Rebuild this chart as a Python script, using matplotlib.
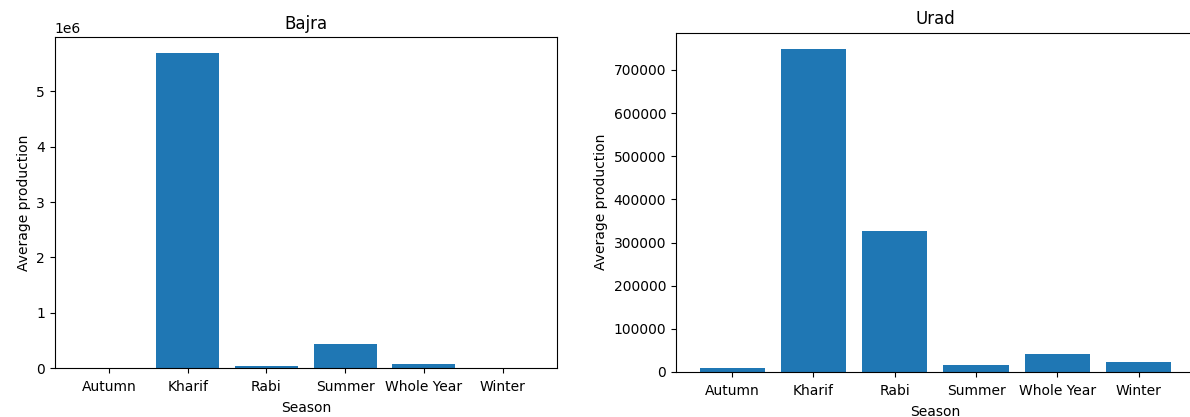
import matplotlib.pyplot as plt

seasons = ["Autumn", "Kharif", "Rabi", "Summer", "Whole Year", "Winter"]
bajra_production = [2000, 5700000, 43000, 430000, 67000, 1500]
urad_production = [8600, 749000, 326000, 16400, 41400, 22700]

fig = plt.figure(figsize=(11.9, 4.17), dpi=100)

ax1 = fig.add_axes([0.046, 0.1175, 0.4219, 0.7938])
ax1.bar(seasons, bajra_production, color="#1f77b4")
ax1.set_title("Bajra")
ax1.set_xlabel("Season", labelpad=5)
ax1.set_ylabel("Average production")
ax1.tick_params(axis="x", pad=5)

# right panel runs off the edge of the canvas
ax2 = fig.add_axes([0.568, 0.108, 0.436, 0.8137])
ax2.bar(seasons, urad_production, color="#1f77b4")
ax2.set_title("Urad")
ax2.set_xlabel("Season", labelpad=5)
ax2.set_ylabel("Average production")
ax2.tick_params(axis="x", pad=5)

plt.savefig("out.png", dpi=100)
